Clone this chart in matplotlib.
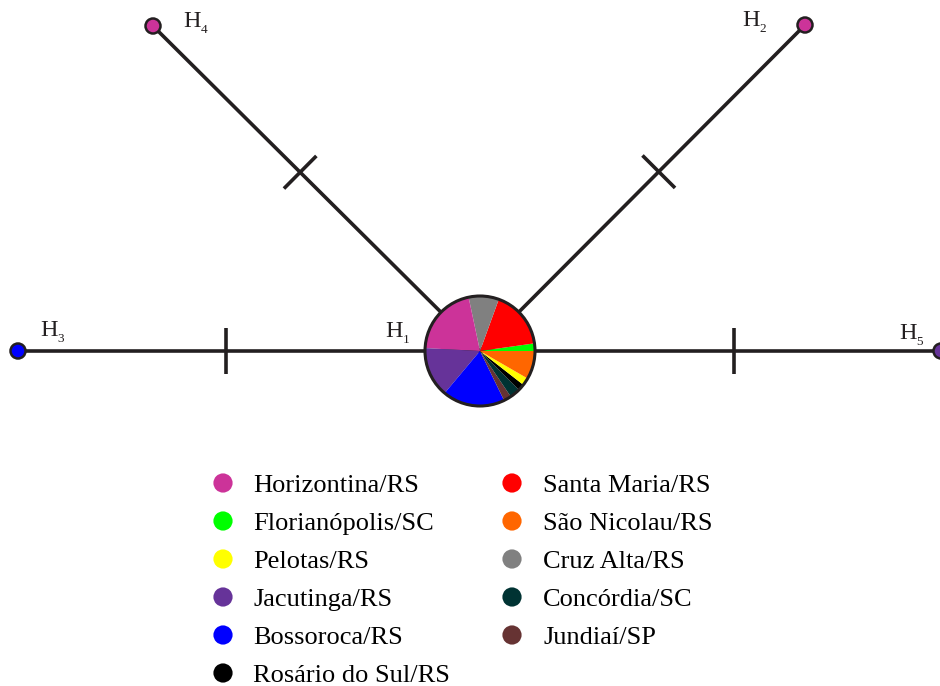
import matplotlib
matplotlib.use("Agg")
import matplotlib.pyplot as plt
from matplotlib.patches import Circle

plt.rcParams['font.family'] = ['Liberation Serif', 'DejaVu Serif']

# Localities and their colours (legend order, two columns)
left_localities = ["Horizontina/RS", "Florianópolis/SC", "Pelotas/RS",
                   "Jacutinga/RS", "Bossoroca/RS", "Rosário do Sul/RS"]
right_localities = ["Santa Maria/RS", "São Nicolau/RS", "Cruz Alta/RS",
                    "Concórdia/SC", "Jundiaí/SP"]
colors = {
    "Horizontina/RS": "#cc3399",
    "Florianópolis/SC": "#00ff00",
    "Pelotas/RS": "#ffff00",
    "Jacutinga/RS": "#663399",
    "Bossoroca/RS": "#0000ff",
    "Rosário do Sul/RS": "#000000",
    "Santa Maria/RS": "#ff0000",
    "São Nicolau/RS": "#ff6600",
    "Cruz Alta/RS": "#808080",
    "Concórdia/SC": "#003333",
    "Jundiaí/SP": "#663333",
}

# Composition of haplotype H1 (share of individuals per locality)
h1_localities = ["Florianópolis/SC", "Santa Maria/RS", "Cruz Alta/RS",
                 "Horizontina/RS", "Jacutinga/RS", "Bossoroca/RS",
                 "Jundiaí/SP", "Concórdia/SC", "Rosário do Sul/RS",
                 "Pelotas/RS", "São Nicolau/RS"]
h1_shares = [8, 62, 32, 75, 53, 66, 8, 11, 7, 8, 30]

# Haplotype network: node names, positions and colours
haplotypes = ["H1", "H2", "H3", "H4", "H5"]
node_x = [480, 805, 18, 153, 941]
node_y = [351, 25, 351, 26, 351]
node_colors = [None, "#cc3399", "#0000ff", "#cc3399", "#663399"]
# label anchor (left of "H", baseline)
label_x = [385, 742, 40, 183, 899]
label_y = [337, 26, 336, 27, 339]

# One mutation step on each branch from H1
mutation_fraction = 0.55

line_color = "#231f20"

fig = plt.figure(figsize=(9.4, 6.86), dpi=100)
ax = fig.add_axes([0, 0, 1, 1])
ax.set_xlim(0, 940)
ax.set_ylim(686, 0)
ax.set_aspect("equal")
ax.axis("off")

cx, cy = node_x[0], node_y[0]
for i in range(1, len(haplotypes)):
    x, y = node_x[i], node_y[i]
    ax.plot([cx, x], [cy, y], color=line_color, lw=2.6, zorder=1,
            solid_capstyle="butt")
    # mutation tick perpendicular to the branch
    dx, dy = x - cx, y - cy
    L = (dx ** 2 + dy ** 2) ** 0.5
    mx, my = cx + dx * mutation_fraction, cy + dy * mutation_fraction
    px, py = -dy / L * 23, dx / L * 23
    ax.plot([mx - px, mx + px], [my - py, my + py], color=line_color,
            lw=2.6, zorder=1, solid_capstyle="butt")
    ax.add_patch(Circle((x, y), 7.5, facecolor=node_colors[i],
                        edgecolor=line_color, lw=1.8, zorder=3))

# H1 pie
radius = 55
ax.pie(h1_shares, colors=[colors[n] for n in h1_localities],
       center=(cx, cy), radius=radius, startangle=0, counterclock=False,
       wedgeprops=dict(linewidth=0), frame=True)
ax.add_patch(Circle((cx, cy), radius, facecolor="none",
                    edgecolor=line_color, lw=2.2, zorder=4))
ax.set_xlim(0, 940)
ax.set_ylim(686, 0)
ax.axis("off")

# Haplotype labels with subscript numbers
for name, lx, ly in zip(haplotypes, label_x, label_y):
    ax.text(lx, ly, "H", fontsize=17.5, va="baseline", ha="left",
            color="#231f20", zorder=5)
    ax.text(lx + 17.5, ly + 6, name[1:], fontsize=9.5, va="baseline",
            ha="left", color="#231f20", zorder=5)

# Legend
row_step = 38.0
for col_names, mx, tx in ((left_localities, 223, 253),
                          (right_localities, 512, 543)):
    for j, name in enumerate(col_names):
        yb = 492 + j * row_step
        ax.add_patch(Circle((mx, yb - 9), 9.6, facecolor=colors[name],
                            edgecolor="none", zorder=3))
        ax.text(tx, yb, name, fontsize=19, va="baseline", ha="left",
                color="black")

fig.savefig("out.png", dpi=100)
